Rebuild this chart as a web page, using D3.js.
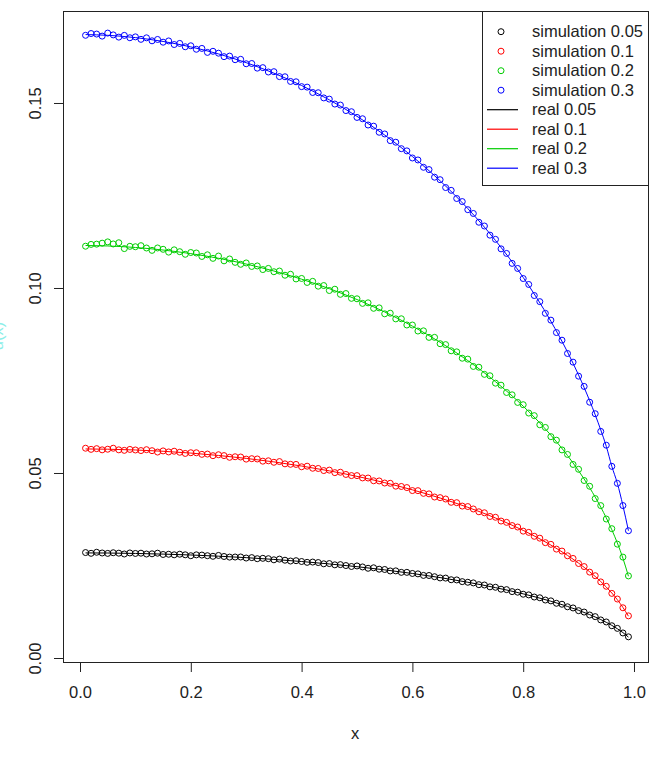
<!DOCTYPE html>
<html>
<head>
<meta charset="utf-8">
<script src="https://cdn.jsdelivr.net/npm/d3@7"></script>
<style>
  body { margin: 0; background: #fff; }
  svg { display: block; }
</style>
</head>
<body>
<div id="chart"></div>
<script>
// simulated points, x = 0.01 .. 0.99
const xs = d3.range(1, 100).map(i => i / 100);

const sim005 = [
  .02850,.02829,.02858,.02838,.02827,.02845,.02833,.02811,.02839,.02826,
  .02833,.02810,.02816,.02833,.02798,.02804,.02789,.02805,.02789,.02764,
  .02788,.02782,.02765,.02749,.02772,.02744,.02727,.02729,.02730,.02702,
  .02713,.02684,.02694,.02684,.02654,.02673,.02643,.02621,.02630,.02608,
  .02585,.02593,.02580,.02546,.02552,.02518,.02524,.02499,.02473,.02488,
  .02461,.02425,.02438,.02400,.02392,.02353,.02355,.02315,.02315,.02285,
  .02274,.02232,.02230,.02197,.02164,.02160,.02115,.02110,.02064,.02047,
  .02030,.01982,.01973,.01923,.01912,.01860,.01848,.01794,.01779,.01724,
  .01706,.01648,.01628,.01567,.01544,.01479,.01453,.01384,.01353,.01279,
  .01242,.01162,.01118,.01029,.00974,.00872,.00801,.00677,.00572
];
const sim01 = [
  .05670,.05639,.05658,.05626,.05643,.05670,.05626,.05612,.05637,.05622,
  .05606,.05630,.05603,.05566,.05597,.05569,.05589,.05560,.05529,.05548,
  .05547,.05504,.05512,.05468,.05494,.05470,.05424,.05439,.05432,.05375,
  .05387,.05379,.05320,.05330,.05290,.05309,.05247,.05235,.05232,.05168,
  .05184,.05128,.05122,.05066,.05078,.05010,.05021,.04961,.04930,.04929,
  .04867,.04864,.04790,.04785,.04729,.04722,.04644,.04636,.04606,.04525,
  .04523,.04450,.04436,.04351,.04334,.04297,.04208,.04198,.04106,.04093,
  .04028,.03952,.03925,.03825,.03804,.03701,.03666,.03579,.03540,.03429,
  .03395,.03289,.03239,.03117,.03072,.02943,.02890,.02763,.02691,.02554,
  .02471,.02321,.02224,.02057,.01938,.01746,.01594,.01357,.01139
];
const sim02 = [
  .11129,.11178,.11185,.11211,.11246,.11190,.11223,.11065,.11126,.11115,
  .11144,.11081,.11017,.11082,.11046,.10969,.11031,.10981,.10911,.10959,
  .10946,.10852,.10897,.10801,.10863,.10734,.10784,.10693,.10640,.10677,
  .10582,.10596,.10498,.10529,.10439,.10458,.10345,.10371,.10245,.10258,
  .10150,.10180,.10049,.10066,.09932,.09967,.09829,.09850,.09720,.09708,
  .09584,.09599,.09451,.09463,.09302,.09319,.09165,.09168,.09000,.08999,
  .08837,.08842,.08665,.08666,.08494,.08470,.08303,.08274,.08102,.08078,
  .07880,.07859,.07666,.07628,.07428,.07374,.07176,.07113,.06907,.06846,
  .06620,.06550,.06303,.06231,.05982,.05887,.05624,.05502,.05231,.05100,
  .04797,.04641,.04309,.04119,.03756,.03495,.03077,.02727,.02218
];
const sim03 = [
  .16829,.16877,.16863,.16807,.16889,.16840,.16780,.16827,.16763,.16787,
  .16720,.16761,.16680,.16717,.16643,.16677,.16580,.16610,.16519,.16546,
  .16452,.16475,.16367,.16397,.16346,.16252,.16267,.16170,.16180,.16060,
  .16067,.15942,.15955,.15837,.15846,.15713,.15709,.15582,.15573,.15442,
  .15429,.15284,.15277,.15137,.15105,.14971,.14944,.14795,.14764,.14610,
  .14574,.14405,.14374,.14209,.14163,.13983,.13940,.13765,.13706,.13514,
  .13460,.13262,.13200,.12995,.12927,.12715,.12639,.12419,.12335,.12117,
  .12014,.11777,.11675,.11428,.11315,.11058,.10934,.10665,.10528,.10256,
  .10095,.09797,.09631,.09316,.09131,.08796,.08589,.08230,.07996,.07617,
  .07340,.06913,.06602,.06124,.05751,.05180,.04720,.04120,.03440
];

// exact curves
const xReal = [0.01,0.05,0.1,0.15,0.2,0.25,0.3,0.35,0.4,0.45,0.5,0.55,0.6,0.65,0.7,
  0.75,0.8,0.85,0.88,0.9,0.92,0.94,0.95,0.96,0.97,0.98,0.99];
const real005 = [.02840,.02837,.02826,.02808,.02784,.02752,.02712,.02664,.02608,.02542,
  .02468,.02382,.02285,.02174,.02047,.01902,.01734,.01534,.01394,.01289,.01172,.01039,
  .00964,.00882,.00791,.00687,.00565];
const real01 = [.05650,.05643,.05622,.05587,.05538,.05474,.05395,.05300,.05188,.05058,
  .04909,.04739,.04545,.04324,.04073,.03784,.03449,.03052,.02773,.02564,.02331,.02067,
  .01918,.01756,.01574,.01367,.01130];
const real02 = [.11149,.11136,.11095,.11026,.10929,.10803,.10647,.10459,.10238,.09982,
  .09688,.09352,.08969,.08534,.08038,.07468,.06806,.06022,.05472,.05060,.04601,.04079,
  .03786,.03465,.03107,.02697,.02210];
const real03 = [.16849,.16829,.16767,.16663,.16516,.16326,.16090,.15806,.15472,.15085,
  .14640,.14133,.13554,.12897,.12147,.11285,.10286,.09101,.08270,.07647,.06953,.06164,
  .05720,.05180,.04720,.04120,.03440];

const xTicks = [0, 0.2, 0.4, 0.6, 0.8, 1.0];
const yTicks = [0, 0.05, 0.1, 0.15];
const legendLabels = ["simulation 0.05", "simulation 0.1", "simulation 0.2", "simulation 0.3",
  "real 0.05", "real 0.1", "real 0.2", "real 0.3"];

const colors = ["#000000", "#ff0000", "#00cd00", "#0000ff"];
const simSeries = [sim005, sim01, sim02, sim03];
const realSeries = [real005, real01, real02, real03];

const W = 651, H = 765;
const box = { left: 63, right: 649, top: 11, bottom: 662 };
const font = "'Liberation Sans', Arial, sans-serif";

const svg = d3.select("#chart").append("svg")
    .attr("width", W)
    .attr("height", H);

svg.append("rect").attr("width", W).attr("height", H).attr("fill", "#fff");

const x = d3.scaleLinear()
    .domain([-0.0307, 1.0271])
    .range([box.left, box.right]);

const y = d3.scaleLinear()
    .domain([-0.00108, 0.17486])
    .range([box.bottom, box.top]);

// axes

const gx = svg.append("g")
    .attr("transform", `translate(0, ${box.bottom})`)
    .call(d3.axisBottom(x).tickValues(xTicks).tickFormat(d3.format(".1f")).tickSize(10).tickSizeOuter(0))
    .call(g => g.select(".domain").remove());
gx.selectAll("line").attr("stroke", "#222");
gx.selectAll("text")
    .attr("y", 0)
    .attr("dy", null)
    .attr("transform", "translate(0, 36)")
    .attr("font-family", font)
    .attr("font-size", "16.5px")
    .attr("fill", "#222");

const gy = svg.append("g")
    .attr("transform", `translate(${box.left}, 0)`)
    .call(d3.axisLeft(y).tickValues(yTicks).tickFormat(d3.format(".2f")).tickSize(9).tickSizeOuter(0))
    .call(g => g.select(".domain").remove());
gy.selectAll("line").attr("stroke", "#222");
gy.selectAll("text")
    .attr("x", 0)
    .attr("dy", null)
    .attr("text-anchor", "middle")
    .attr("transform", "translate(-22, 0) rotate(-90)")
    .attr("font-family", font)
    .attr("font-size", "16.5px")
    .attr("fill", "#222");

// axis titles

svg.append("text")
    .attr("x", 355)
    .attr("y", 739)
    .attr("text-anchor", "middle")
    .attr("font-family", font)
    .attr("font-size", "16.5px")
    .attr("fill", "#222")
    .text("x");

// y title sits mostly past the left edge, as in the original export
svg.append("text")
    .attr("transform", "translate(3, 336) rotate(-90)")
    .attr("text-anchor", "middle")
    .attr("font-family", font)
    .attr("font-size", "16.5px")
    .attr("fill", "#8ceee8")
    .text("u(x)");

// real lines

const line = d3.line()
    .x(d => x(d[0]))
    .y(d => y(d[1]))
    .curve(d3.curveMonotoneX);

realSeries.forEach((vals, i) => {
  svg.append("path")
      .datum(xReal.map((v, j) => [v, vals[j]]))
      .attr("fill", "none")
      .attr("stroke", colors[i])
      .attr("stroke-width", 1)
      .attr("d", line);
});

// simulation points

simSeries.forEach((vals, i) => {
  svg.append("g")
    .selectAll("circle")
    .data(xs.map((v, j) => [v, vals[j]]))
    .join("circle")
      .attr("cx", d => x(d[0]))
      .attr("cy", d => y(d[1]))
      .attr("r", 3)
      .attr("fill", "none")
      .attr("stroke", colors[i])
      .attr("stroke-width", 1);
});

// plot box

svg.append("rect")
    .attr("x", box.left + 0.5)
    .attr("y", box.top + 0.5)
    .attr("width", box.right - box.left - 1)
    .attr("height", box.bottom - box.top)
    .attr("fill", "none")
    .attr("stroke", "#222");

// legend

const lg = svg.append("g");
const lgLeft = 482.5, lgTop = 11.5, rowH = 19.5;

lg.append("rect")
    .attr("x", lgLeft)
    .attr("y", lgTop)
    .attr("width", box.right - 0.5 - lgLeft)
    .attr("height", 174)
    .attr("fill", "#fff")
    .attr("stroke", "#222");

legendLabels.forEach((label, i) => {
  const cy = 31.7 + i * rowH;
  const c = colors[i % 4];
  if (i < 4) {
    lg.append("circle")
        .attr("cx", 501)
        .attr("cy", cy)
        .attr("r", 3)
        .attr("fill", "none")
        .attr("stroke", c)
        .attr("stroke-width", 1);
  } else {
    lg.append("line")
        .attr("x1", 487).attr("x2", 518)
        .attr("y1", cy).attr("y2", cy)
        .attr("stroke", c)
        .attr("stroke-width", 1.2);
  }
  lg.append("text")
      .attr("x", 532)
      .attr("y", cy)
      .attr("dy", "0.35em")
      .attr("font-family", font)
      .attr("font-size", "16.5px")
      .attr("fill", "#222")
      .text(label);
});
</script>
</body>
</html>
